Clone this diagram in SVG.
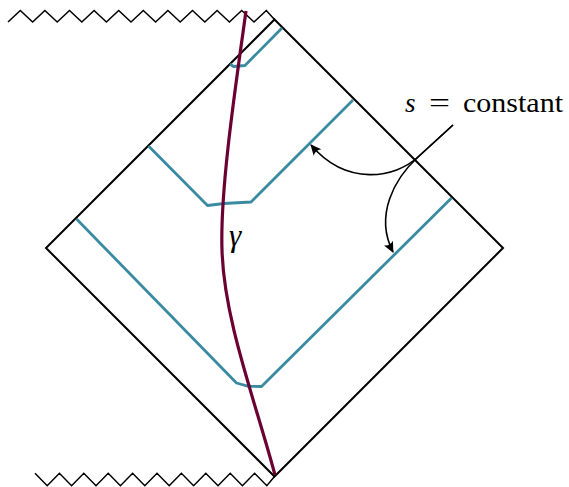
<svg xmlns="http://www.w3.org/2000/svg" width="569" height="487" viewBox="0 0 569 487">
<style>
.blk{fill:none;stroke:#000;stroke-width:2;stroke-linejoin:miter}
.zz{fill:none;stroke:#000;stroke-width:1.5;stroke-linejoin:miter}
.slice{fill:none;stroke:#3a8ba1;stroke-width:2.8;stroke-linejoin:round}
.gam{fill:none;stroke:#6b0032;stroke-width:3.2;stroke-linecap:butt}
.arr{fill:none;stroke:#000;stroke-width:1.6}
.txt{font-family:"Liberation Serif","DejaVu Serif",serif;fill:#000}
</style>
<defs>
<marker id="ah" markerUnits="userSpaceOnUse" markerWidth="14" markerHeight="12" viewBox="-12 -6 14 12" refX="0" refY="0" orient="auto">
<path d="M1,0 L-10,-5 Q-6.5,0 -10,5 Z" fill="#000"/>
</marker>
</defs>
<g id="zigzag-top">
<polyline class="zz" points="8,22 20.3,10.5 32.6,22 44.9,10.5 57.2,22 69.5,10.5 81.8,22 94.1,10.5 106.4,22 118.7,10.5 131,22 143.3,10.5 155.6,22 167.9,10.5 180.2,22 192.5,10.5 204.8,22 217.1,10.5 229.4,22 241.7,10.5 254,22 266.3,10.5 274.5,19.5"/>
</g>
<g id="zigzag-bottom">
<polyline class="zz" points="35,473.3 47.2,485.7 59.4,473.3 71.6,485.7 83.8,473.3 96,485.7 108.2,473.3 120.4,485.7 132.6,473.3 144.8,485.7 157,473.3 169.2,485.7 181.4,473.3 193.6,485.7 205.8,473.3 218,485.7 230.2,473.3 242.4,485.7 254.6,473.3 266.8,485.7 274.5,476.5"/>
</g>
<g id="diamond">
<polygon class="blk" points="274.5,19.5 503,248 274.5,476.5 46,248"/>
</g>
<g id="slice-1">
<polyline class="slice" points="230,64 233.5,66.5 245,65.5 282,28"/>
</g>
<g id="slice-2">
<polyline class="slice" points="148.5,146 207.5,205.5 224,203.5 251,202 353,100"/>
</g>
<g id="slice-3">
<polyline class="slice" points="76.5,219 236.5,383 248.5,386.3 261.5,386.5 451.5,198"/>
</g>
<g id="curve-gamma">
<path class="gam" d="M246,11 C235,90 220,190 222,250 C224,320 255,400 275,475"/>
<text class="txt" x="229" y="246" font-size="31" font-style="italic">γ</text>
</g>
<g id="label">
<text class="txt" x="405" y="112" font-size="27"><tspan font-style="italic">s</tspan><tspan x="429" textLength="21" lengthAdjust="spacingAndGlyphs">=</tspan><tspan x="463" textLength="100" lengthAdjust="spacingAndGlyphs">constant</tspan></text>
</g>
<g id="connectors">
<path class="arr" d="M453,125 L418,157 C395,178 347,187 311,145" marker-end="url(#ah)"/>
<path class="arr" d="M453,125 L418,157 C395,178 374,215 393,252" marker-end="url(#ah)"/>
</g>
</svg>
